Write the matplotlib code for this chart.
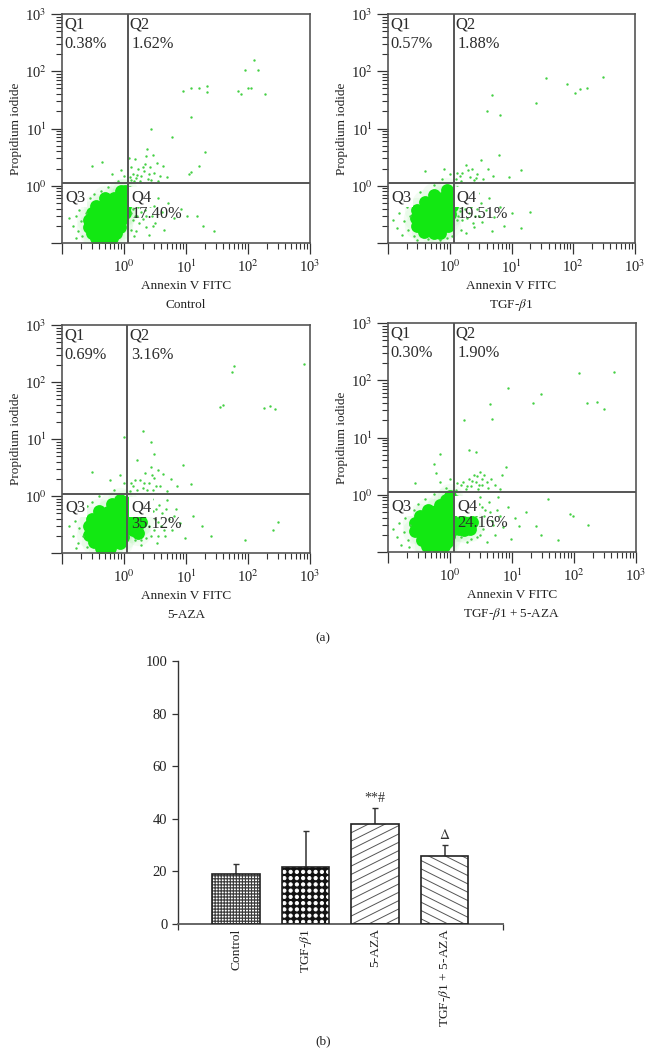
import warnings
import matplotlib
matplotlib.use('Agg')
import matplotlib.pyplot as plt
import matplotlib.hatch as mhatch
from matplotlib.path import Path
from matplotlib.ticker import LogLocator, NullFormatter, FixedLocator
from matplotlib.transforms import ScaledTranslation

warnings.filterwarnings('ignore')
plt.rcParams['font.family'] = ['Liberation Serif', 'DejaVu Serif']
plt.rcParams['mathtext.fontset'] = 'stix'
plt.rcParams['hatch.linewidth'] = 0.7

W, H = 652, 1056
GREEN = '#12e812'

# flow cytometry panels: (annexin, PI)
control_core = [(.9,.8),(1.02,.8),(.5,.6),(.7,.6),(.9,.6),(1.05,.6),(.35,.45),(.5,.45),(.7,.45),(.9,.45),(1.05,.45),
    (.3,.33),(.4,.33),(.55,.33),(.75,.33),(.95,.33),(1.05,.33),(.27,.25),(.35,.25),(.5,.25),(.7,.25),(.9,.25),
    (.27,.19),(.35,.19),(.5,.19),(.7,.19),(.85,.19),(.3,.15),(.42,.15),(.6,.15),(.75,.15),(.35,.122),(.5,.122),(.65,.122)]
control_dots = [(.13,.27),(.15,.2),(.17,.3),(.18,.16),(.19,.38),(.2,.24),(.21,.13),(.22,.47),(.24,.33),(.17,.12),(.28,.6),(.33,.72),
    (.42,.82),(.55,.95),(.8,1.2),(.65,1.6),(1.0,1.5),(.3,2.2),(.45,2.6),(.9,1.9),(1.25,.95),(1.3,.7),(1.35,.5),(1.3,.33),(1.4,.25),
    (1.3,.17),(1.45,.13),(1.5,.8),(1.6,.6),(1.7,.42),(1.6,.3),(1.75,.22),(1.55,.16),(1.9,.75),(2.1,.55),(2.2,.38),(2.0,.26),(2.3,.19),
    (2.5,.14),(2.4,.9),(2.7,.65),(3.0,.45),(2.8,.3),(3.2,.22),(3.6,.6),(4.1,.35),(4.5,.17),(5.2,.5),(6.3,.27),(8.2,.4),(10.5,.3),(15,.3),
    (19,.2),(28,.16),(1.3,1.25),(1.4,1.6),(1.55,1.35),(1.7,2.0),(1.9,1.5),(2.1,1.8),(2.2,2.4),(2.4,1.3),(2.6,2.1),(2.3,3.3),(2.35,4.4),
    (2.9,3.5),(3.0,1.7),(3.4,2.5),(3.8,1.5),(4.3,2.2),(5,1.4),(1.5,2.9),(1.2,3.0),(11,1.6),(12,1.75),(16,2.2),(20,3.9),(6,7),(2.7,10),(12,16),
    (9,45),(12,50),(16,52),(22,55),(22,44),(70,46),(78,40),(88,105),(100,52),(110,50),(125,155),(145,105),(190,40),
    (1.25,1.45),(1.45,1.2),(1.65,1.55),(1.8,1.2),(2.0,2.1),(2.5,1.6),(2.7,1.25),(1.3,2.1),(3.5,1.2),(1.4,.4),(1.5,.3),(1.65,.5),(1.85,.35),(2.1,.7),(2.3,.3),(2.6,.45),(2.9,.2)]

tgf_core = [(.9,.85),(1.02,.7),(.55,.7),(.75,.62),(.95,.55),(.4,.52),(.55,.48),(.75,.45),(.95,.42),(1.08,.45),(.3,.37),(.42,.36),(.6,.35),
    (.8,.33),(1.0,.32),(.28,.27),(.36,.27),(.5,.26),(.7,.25),(.9,.25),(.3,.2),(.4,.2),(.55,.19),(.75,.19),(.95,.2),(.38,.155),(.55,.15),(.7,.15)]
tgf_dots = [(.12,.25),(.14,.18),(.15,.33),(.17,.14),(.18,.24),(.2,.42),(.21,.17),(.23,.3),(.26,.13),(.24,.6),(.33,.78),(.29,.115),(.45,.118),
    (.7,.115),(.9,.12),(1.1,.13),(.55,1.05),(.75,1.3),(1.0,1.6),(.8,2),(.4,1.8),(1.3,.95),(1.4,.7),(1.35,.5),(1.45,.36),(1.3,.25),(1.5,.17),(1.7,.8),
    (1.8,.55),(1.75,.4),(1.9,.27),(1.8,.15),(2.2,.9),(2.4,.62),(2.2,.43),(2.6,.3),(2.5,.19),(2.9,.75),(3.2,.5),(3.3,.23),(3.9,.37),(4.4,.6),(4.8,.16),
    (5.3,.28),(6.5,.42),(7.5,.2),(10,.33),(14,.18),(20,.35),(1.25,1.3),(1.5,1.2),(1.6,1.7),(1.8,2.3),(2.1,1.4),(2.3,2.0),(2.5,1.25),(2.8,1.6),
    (3.2,2.8),(3.5,1.3),(4.2,2.0),(5.1,1.5),(6.2,3.5),(9,1.4),(14,1.9),(4,20),(4.8,38),(6.5,17),(25,28),(36,75),(80,60),(105,42),(130,48),(170,52),(300,78),
    (1.35,.3),(1.55,.45),(1.6,.25),(1.95,.6),(2.05,.33),(2.35,.22),(2.75,.4),(3.0,.3),(1.3,1.7),(1.45,1.5),(1.95,1.9),(2.7,1.35)]

aza_core = [(.85,.85),(1.05,.8),(.65,.72),(.9,.65),(1.1,.6),(.4,.55),(.55,.52),(.75,.5),(.95,.47),(1.1,.42),(.3,.4),(.42,.38),(.6,.37),(.8,.35),(1.0,.32),
    (1.1,.3),(.27,.3),(.35,.28),(.5,.27),(.7,.26),(.9,.24),(.27,.21),(.37,.2),(.52,.2),(.72,.19),(.95,.19),(.33,.155),(.48,.15),(.65,.15),(.85,.15),
    (.42,.123),(.6,.123),(1.35,.38),(1.6,.3),(1.9,.35),(1.4,.25),(1.7,.22)]
aza_dots = [(.13,.3),(.15,.2),(.16,.37),(.18,.15),(.19,.27),(.2,.5),(.22,.2),(.17,.12),(.25,.66),(.3,.8),(.25,.13),(.4,1),(.7,1.3),(1,1.7),(.85,2.3),
    (.6,1.9),(.3,2.6),(1.0,11),(1.3,.9),(1.5,.7),(1.4,.55),(1.7,.5),(1.5,.17),(1.9,.14),(2.1,.8),(2.3,.6),(2.2,.45),(2.5,.3),(2.3,.18),(2.8,.9),(2.9,.55),
    (3.2,.4),(3.1,.25),(3.4,.15),(3.7,.7),(4.1,.5),(4.0,.3),(4.6,.2),(5.0,.85),(5.4,.4),(6,.25),(7,.6),(8,.33),(9.5,.18),(13,.45),(18,.3),(25,.2),(90,.17),(250,.25),
    (300,.35),(1.25,1.2),(1.4,1.5),(1.6,1.25),(1.8,1.9),(2,1.4),(2.2,2.5),(2.5,1.7),(2.7,3.2),(2.9,1.3),(3.1,2.1),(3.5,2.9),(3.8,1.5),(4.3,2.4),(5,1.2),(5.8,2.0),
    (7.2,1.5),(3,5.5),(1.6,4.2),(2,14),(2.7,9),(9,3.5),(12,1.6),(36,37),(40,40),(55,150),(60,190),(180,35),(230,38),(270,33),(800,210),
    (2.6,.75),(3.3,.6),(3.6,.35),(4.4,.25),(4.8,.6),(2.7,.2),(1.9,.17),(3.6,.2),(6.5,.45),(1.3,1.7),(1.5,1.9),(2.1,1.7),(2.35,1.3),(3.3,1.5),(2.8,2.3)]

combo_core = [(1.0,.95),(.85,.8),(1.05,.75),(.7,.65),(.9,.6),(1.08,.55),(.45,.55),(.6,.52),(.8,.47),(1.0,.43),(.33,.43),(.45,.4),(.62,.37),(.82,.35),(1.02,.33),
    (.27,.32),(.36,.3),(.5,.28),(.7,.26),(.9,.25),(1.08,.24),(.27,.23),(.37,.21),(.52,.2),(.72,.19),(.95,.19),(.35,.16),(.5,.15),(.68,.15),(.88,.15),(.42,.125),(.6,.125),
    (.8,.125),(1.35,.32),(1.6,.34),(1.9,.32),(2.3,.33),(1.4,.25),(1.7,.24),(2.1,.25)]
combo_dots = [(.12,.25),(.14,.18),(.15,.32),(.16,.13),(.18,.22),(.19,.4),(.21,.16),(.23,.3),(.22,.12),(.26,.55),(.3,.7),(.4,.85),(.55,1.05),(.85,1.3),(.7,1.7),
    (1.0,1.9),(.6,2.4),(.7,5.2),(.27,1.6),(.55,3.5),(1.3,.95),(1.5,.8),(1.4,.55),(1.7,.65),(1.5,.18),(1.9,.15),(2.2,.75),(2.5,.55),(2.6,.42),(2.7,.18),(3.1,.9),
    (3.3,.6),(3.5,.42),(3.4,.25),(3.9,.15),(4.2,.75),(4.5,.5),(5,.3),(5.3,.2),(6,.9),(6.5,.42),(7.1,.27),(8.6,.6),(9.5,.17),(11,.4),(13,.28),(17,.5),(24,.28),(29,.2),(38,.85),
    (55,.16),(85,.46),(95,.42),(170,.3),(1.25,1.2),(1.5,1.5),(1.8,1.25),(2,1.9),(2.2,1.4),(2.4,2.2),(2.6,1.7),(2.8,1.25),(3,2.5),(3.3,1.5),(3.6,2.2),(4.1,1.3),(4.6,1.9),(5.4,1.5),
    (6.3,1.25),(7,2.2),(8.1,3.1),(2,6),(2.6,5.5),(1.7,20),(4.5,38),(4.8,21),(8.6,72),(22,40),(29,58),(120,135),(160,40),(235,42),(300,31),(450,138),
    (1.3,1.6),(1.65,1.7),(1.9,1.45),(2.3,1.75),(2.7,2.1),(2.95,1.5),(3.3,1.9),(3.9,1.7),(2.1,.5),(2.9,.7),(3.7,.55),(4.7,.35),(5.8,.55),(3,.2),(2.2,.17)]

q_values = [['0.38%', '1.62%', '17.40%'], ['0.57%', '1.88%', '19.51%'], ['0.69%', '3.16%', '35.12%'], ['0.30%', '1.90%', '24.16%']]
captions = ['Control', 'TGF-$\\beta$1', '5-AZA', 'TGF-$\\beta$1 + 5-AZA']
core_sets = [control_core, tgf_core, aza_core, combo_core]
dot_sets = [control_dots, tgf_dots, aza_dots, combo_dots]
gate_x = [1.16, 1.18, 1.13, 1.18]
gate_y = [1.13, 1.13, 1.1, 1.1]
decades = [.1, 1, 10, 100, 1000]
decade_labels = ['', '10$^{0}$', '10$^{1}$', '10$^{2}$', '10$^{3}$']

# bar chart
bar_names = ['Control', 'TGF-$\\beta$1', '5-AZA', 'TGF-$\\beta$1 + 5-AZA']
bar_means = [19, 21.5, 38.2, 26]
bar_errs = [4, 13.8, 5.8, 4]
bar_marks = ['', '', '**#', '$\\Delta$']

# pixel boxes: left, right, top, bottom
boxes = [(62, 310, 14, 243), (388, 635, 14, 243), (62, 310, 325, 553), (388, 636, 323, 552)]


class GridDots(mhatch.HatchPatternBase):
    # square grid of filled dots, not staggered like the '.' hatch
    n = 16
    r = .016
    key = 'g'

    def __init__(self, hatch, density):
        self.count = hatch.count(self.key) * self.n
        self.shape = Path.unit_circle()
        self.num_vertices = self.count ** 2 * len(self.shape.vertices)

    def set_vertices_and_codes(self, vertices, codes):
        m = len(self.shape.vertices)
        c = 0
        for i in range(self.count):
            for j in range(self.count):
                vertices[c:c + m] = self.shape.vertices * self.r + [(i + .5) / self.count, (j + .5) / self.count]
                codes[c:c + m] = self.shape.codes
                c += m


class FineDots(GridDots):
    n = 33
    r = .005
    key = 'f'


class RisingLines(mhatch.HatchPatternBase):
    # lines of slope 1/2 that wrap on the hatch tile
    sign = 1
    key = 'r'

    def __init__(self, hatch, density):
        self.on = hatch.count(self.key)
        self.num_vertices = 36 if self.on else 0

    def set_vertices_and_codes(self, vertices, codes):
        for k in range(18):
            y0 = (k - 6) / 12
            if self.sign > 0:
                vertices[2 * k] = (0, y0)
                vertices[2 * k + 1] = (1, y0 + .5)
            else:
                vertices[2 * k] = (0, y0 + .5)
                vertices[2 * k + 1] = (1, y0)
            codes[2 * k] = Path.MOVETO
            codes[2 * k + 1] = Path.LINETO


class FallingLines(RisingLines):
    sign = -1
    key = 'c'


mhatch._hatch_types.extend([GridDots, FineDots, RisingLines, FallingLines])


def px_axes(fig, l, r, t, b):
    return fig.add_axes([l / W, 1 - b / H, (r - l) / W, (b - t) / H])


fig = plt.figure(figsize=(W / 100, H / 100), dpi=100)

for i, (l, r, t, b) in enumerate(boxes):
    ax = px_axes(fig, l, r, t, b)
    ax.set_xscale('log')
    ax.set_yscale('log')
    ax.set_xlim(.1, 1000)
    ax.set_ylim(.1, 1000)
    ax.scatter(*zip(*core_sets[i]), s=330, color='#7fe87f', alpha=.09, linewidths=0, zorder=2)
    ax.scatter(*zip(*core_sets[i]), s=85, color=GREEN, linewidths=0, zorder=2)
    ax.scatter(*zip(*dot_sets[i]), s=3, color='#45d045', linewidths=0, zorder=2)
    ax.axvline(gate_x[i], color='#555555', lw=1.4, zorder=3)
    ax.axhline(gate_y[i], color='#555555', lw=1.4, zorder=3)

    for axis in (ax.xaxis, ax.yaxis):
        axis.set_major_locator(FixedLocator(decades))
        axis.set_major_formatter(plt.FixedFormatter(decade_labels))
        axis.set_minor_locator(LogLocator(base=10, subs=range(2, 10), numticks=12))
        axis.set_minor_formatter(NullFormatter())
    ax.tick_params(which='major', length=8, width=.9, color='#333333', labelsize=10.5, labelcolor='#222222', pad=3)
    ax.tick_params(which='minor', length=4.5, width=.8, color='#333333')
    for s in ax.spines.values():
        s.set_color('#555555')
        s.set_linewidth(1.2)
    ax.set_xlabel('Annexin V FITC', fontsize=9.5, labelpad=3, color='#222222')
    ax.set_ylabel('Propidium iodide', fontsize=9.5, labelpad=2, color='#222222')

    box = dict(facecolor='white', edgecolor='none', pad=1.5)
    for txt, tx, ty in [('Q1', .008, .955), ('Q2', .273, .955)]:
        ax.text(tx, ty, txt, transform=ax.transAxes, fontsize=12, color='#2c2c2c', va='center', ha='left', zorder=4)
    for txt, tx, ty in [('Q3', .012, .2), ('Q4', .278, .2)]:
        ax.text(tx, ty, txt, transform=ax.transAxes, fontsize=12, color='#2c2c2c', va='center', ha='left', zorder=2.6, bbox=box)
    for txt, tx, ty in [(q_values[i][0], .008, .87), (q_values[i][1], .28, .87), (q_values[i][2], .28, .125)]:
        ax.text(tx, ty, txt, transform=ax.transAxes, fontsize=11.8, color='#2c2c2c', va='center', ha='left', zorder=4)

    fig.text((l + r) / 2 / W, 1 - (b + 62) / H, captions[i], fontsize=9.5, color='#222222', ha='center', va='center')

fig.text(323 / W, 1 - 638 / H, '(a)', fontsize=9.5, color='#222222', ha='center', va='center')
fig.text(323 / W, 1 - 1041 / H, '(b)', fontsize=9.5, color='#222222', ha='center', va='center')

# bar panel
ax = px_axes(fig, 177.7, 502.7, 661, 924)
xs = range(len(bar_means))
styles = [dict(facecolor='#3a3a3a', hatch='f', edgecolor='#ffffff'),
          dict(facecolor='#111111', hatch='g', edgecolor='#ffffff'),
          dict(facecolor='#ffffff', hatch='r', edgecolor='#555555'),
          dict(facecolor='#ffffff', hatch='c', edgecolor='#555555')]
for x, v, e, st in zip(xs, bar_means, bar_errs, styles):
    ax.bar(x, v, width=.68, linewidth=0, zorder=2, **st)
    ax.bar(x, v, width=.68, facecolor='none', edgecolor='#222222', linewidth=1.2, zorder=3)
    ax.errorbar(x, v, yerr=[[0], [e]], color='#333333', lw=1.1, capsize=2, capthick=1, zorder=1)
for x, v, e, m in zip(xs, bar_means, bar_errs, bar_marks):
    if m:
        ax.text(x, v + e + 1.2, m, ha='center', va='bottom', fontsize=10, color='#333333')
ax.set_xlim(-.839, 3.837)
ax.set_ylim(0, 100)
ax.set_xticks(list(xs))
ax.set_xticklabels(bar_names, rotation=90, fontsize=9.7, color='#222222')
shift = ScaledTranslation(-4 / 100, 0, fig.dpi_scale_trans)
for lab in ax.get_xticklabels():
    lab.set_transform(lab.get_transform() + shift)
ax.set_xticks([-.839, 3.837], minor=True)
ax.tick_params(axis='x', which='major', length=0, pad=3)
ax.tick_params(axis='x', which='minor', length=4, width=.9, color='#333333')
ax.set_yticks([0, 20, 40, 60, 80, 100])
ax.tick_params(axis='y', length=4.5, width=.9, color='#333333', labelsize=10.5, labelcolor='#222222', pad=3)
ax.spines['top'].set_visible(False)
ax.spines['right'].set_visible(False)
ax.spines['left'].set_color('#333333')
ax.spines['left'].set_linewidth(1)
ax.spines['bottom'].set_color('#666666')
ax.spines['bottom'].set_linewidth(1.4)

fig.savefig('out.png', dpi=100)
